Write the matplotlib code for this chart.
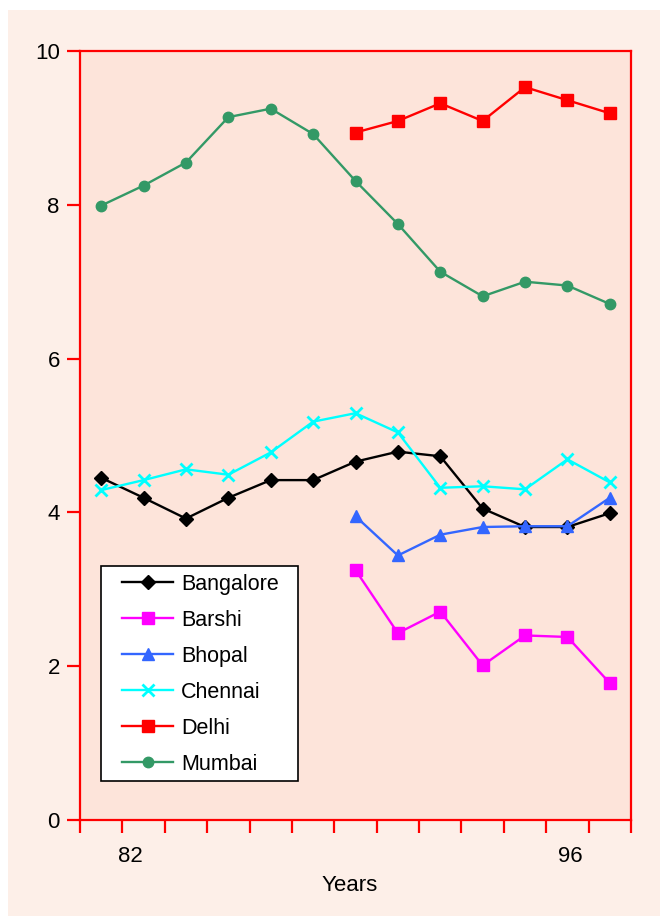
import numpy as np
import matplotlib
matplotlib.use('Agg')
import matplotlib.pyplot as plt
from matplotlib.patches import Rectangle

plt.rcParams['font.family'] = ['Liberation Sans', 'DejaVu Sans']

# 13 yearly points, cities with shorter records start later
n_points = 13
bangalore = [4.45, 4.19, 3.92, 4.19, 4.42, 4.42, 4.66, 4.79, 4.73, 4.05, 3.81, 3.81, 3.99]
chennai = [4.29, 4.42, 4.56, 4.49, 4.78, 5.18, 5.29, 5.04, 4.32, 4.34, 4.30, 4.69, 4.39]
mumbai = [7.99, 8.25, 8.55, 9.14, 9.25, 8.92, 8.31, 7.75, 7.13, 6.81, 7.00, 6.95, 6.71]
bhopal = [3.95, 3.44, 3.71, 3.81, 3.82, 3.82, 4.19]
barshi = [3.25, 2.43, 2.71, 2.01, 2.40, 2.38, 1.78]
delhi = [8.94, 9.09, 9.32, 9.09, 9.53, 9.36, 9.19]

year_labels = ['82', '96']
year_label_pos = [0.68, 11.06]
y_ticks = [0, 2, 4, 6, 8, 10]

fig = plt.figure(figsize=(6.6, 9.16), dpi=100)
fig.patch.set_facecolor('white')
fig.patches.append(Rectangle((8 / 660, 0), 1, 1 - 10 / 916, transform=fig.transFigure,
                             facecolor='#fdefe8', edgecolor='none', zorder=-10))

ax = fig.add_axes([80 / 660, 96 / 916, 551 / 660, 769 / 916])
ax.set_facecolor('#fde4da')

x_full = np.arange(n_points)
x_late = np.arange(n_points - len(bhopal), n_points)

lw = 1.7
ax.plot(x_full, bangalore, color='black', marker='D', markersize=7, lw=lw, label='Bangalore')
ax.plot(x_late, barshi, color='#ff00ff', marker='s', markersize=8, lw=lw, label='Barshi')
ax.plot(x_late, bhopal, color='#3366ff', marker='^', markersize=8.5, lw=lw, label='Bhopal')
ax.plot(x_full, chennai, color='#00ffff', marker='x', markersize=9, mew=2, lw=lw, label='Chennai')
ax.plot(x_late, delhi, color='#ff0000', marker='s', markersize=8, lw=lw, label='Delhi')
ax.plot(x_full, mumbai, color='#339966', marker='o', markersize=7.5, lw=lw, label='Mumbai')

ax.set_xlim(-0.5, n_points - 0.5)
ax.set_ylim(0, 10)

for s in ax.spines.values():
    s.set_color('#ff0000')
    s.set_linewidth(1.6)

ax.set_xticks(np.arange(-0.5, n_points, 1.0))
ax.set_xticklabels([])
ax.set_xticks(year_label_pos, minor=True)
ax.set_xticklabels(year_labels, minor=True)
ax.tick_params(axis='x', which='major', direction='out', length=9.5, width=1.6, color='#ff0000')
ax.tick_params(axis='x', which='minor', length=0, pad=19, labelsize=16)

ax.set_yticks(y_ticks)
ax.tick_params(axis='y', direction='out', length=9.5, width=1.6, color='#ff0000', labelsize=16, pad=5)

ax.set_xlabel('Years', fontsize=16)
ax.xaxis.set_label_coords(0.49, -0.071)

# legend box drawn separately so its padding can match
ax.add_patch(Rectangle((21 / 551, 39 / 769), 197 / 551, 215 / 769, transform=ax.transAxes,
                       facecolor='white', edgecolor='black', lw=1.2, zorder=4))
leg = ax.legend(loc='lower left', bbox_to_anchor=(42 / 551, 45 / 769), borderaxespad=0,
                borderpad=0, frameon=False, fontsize=15.5,
                handlelength=2.37, handletextpad=0.37, labelspacing=0.70)
leg.set_zorder(5)

fig.savefig('out.png', dpi=100, facecolor=fig.get_facecolor())
